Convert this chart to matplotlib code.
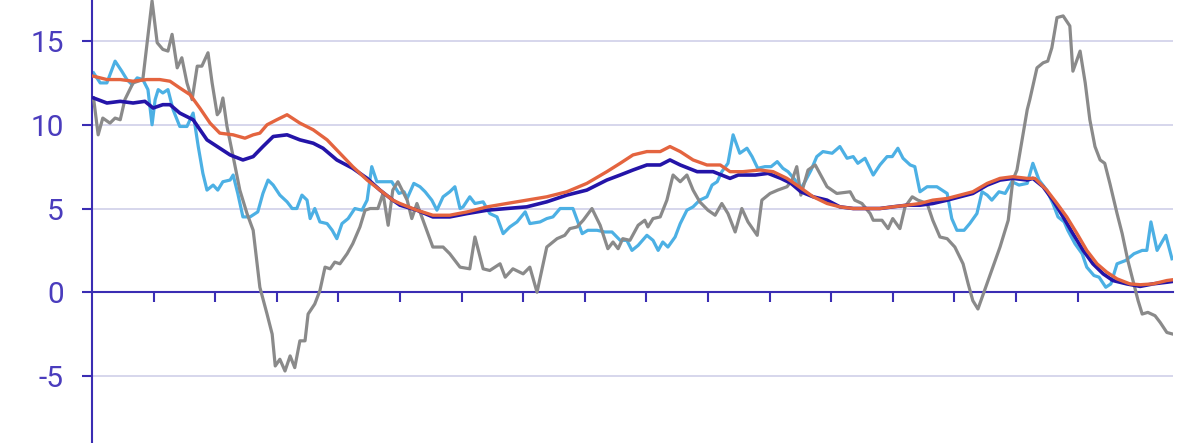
import matplotlib
matplotlib.use("Agg")
import matplotlib.pyplot as plt

plt.rcParams['font.family'] = ['Roboto', 'DejaVu Sans']
plt.rcParams['axes.unicode_minus'] = False

# months since start of series (x) and values (y)
gray_x = [0.3, 1.2, 2.1, 3.5, 4.5, 5.5, 6.4, 8.0, 9.9, 11.7, 12.7, 13.8, 14.8, 15.6, 16.6, 17.5,
          18.5, 19.5, 20.5, 21.4, 22.6, 23.4, 24.4, 24.9, 25.5, 26.3, 27.5, 28.8, 30.2, 31.4, 32.7,
          34.1, 35.1, 35.7, 36.6, 37.6, 38.6, 39.5, 40.5, 41.5, 42.1, 43.4, 44.4, 45.4, 46.4, 47.3,
          48.3, 49.7, 50.8, 52.2, 53.2, 54.2, 55.7, 56.7, 57.7, 58.6, 59.6, 61.4, 62.3, 63.3, 64.5,
          66.4, 68.4, 69.7, 71.7, 73.6, 74.6, 76.2, 77.5, 79.5, 80.5, 82.0, 84.0, 85.3, 86.7, 88.6,
          90.6, 92.1, 93.1, 94.5, 95.7, 97.4, 99.0, 100.5, 101.5, 102.5, 103.4, 104.8, 106.4, 107.7,
          108.3, 109.3, 110.7, 112.0, 113.2, 114.6, 115.9, 117.1, 118.4, 120.0, 121.4, 122.7, 123.9,
          125.3, 126.6, 127.8, 129.6, 130.5, 132.1, 133.6, 135.4, 136.4, 137.3, 138.1, 139.5, 140.9,
          143.2, 145.1, 147.7, 148.6, 150.0, 151.6, 152.2, 153.9, 155.1, 156.0, 157.4, 158.4, 159.8,
          160.9, 162.7, 163.8, 165.2, 166.6, 168.1, 169.7, 170.7, 171.6, 172.6, 174.0, 175.3, 176.9,
          178.5, 179.4, 180.2, 181.2, 182.2, 182.7, 184.1, 185.3, 186.2, 187.0, 188.0, 189.2, 190.5,
          191.1, 192.5, 193.5, 194.4, 195.4, 196.4, 197.3, 198.3, 199.7, 200.7, 201.8, 202.8, 203.8,
          204.6, 205.7, 207.1, 208.1, 209.4, 210.6]
gray_y = [11.6, 9.4, 10.4, 10.1, 10.4, 10.3, 11.5, 12.5, 12.7, 17.4, 14.9, 14.5, 14.4, 15.4, 13.4, 14.0,
          12.5, 11.5, 13.5, 13.5, 14.3, 12.5, 10.6, 10.8, 11.6, 9.9, 8.1, 6.1, 4.7, 3.7, 0.3,
          -1.3, -2.5, -4.4, -4.0, -4.7, -3.8, -4.5, -2.9, -2.9, -1.3, -0.7, 0.1, 1.5, 1.4, 1.8,
          1.7, 2.3, 2.9, 3.9, 4.9, 5.0, 5.0, 5.9, 4.0, 6.1, 6.6, 5.5, 4.4, 5.3, 4.3,
          2.7, 2.7, 2.3, 1.5, 1.4, 3.3, 1.4, 1.3, 1.7, 0.9, 1.4, 1.1, 1.5, 0.0, 2.7,
          3.2, 3.4, 3.8, 3.9, 4.3, 5.0, 4.0, 2.6, 3.0, 2.6, 3.2, 3.1, 4.0, 4.3,
          3.9, 4.4, 4.5, 5.5, 7.0, 6.6, 7.0, 6.1, 5.4, 4.9, 4.6, 5.3, 4.7,
          3.6, 5.0, 4.2, 3.4, 5.5, 5.9, 6.1, 6.3, 6.7, 7.5, 5.8, 7.3, 7.6,
          6.3, 5.9, 6.0, 5.5, 5.3, 4.7, 4.3, 4.3, 3.8, 4.4, 3.8, 5.1, 5.7,
          5.5, 5.3, 4.3, 3.3, 3.2, 2.7, 1.7, 0.5, -0.5, -1.0, 0.2, 1.3, 2.7,
          4.3, 6.7, 7.3, 9.1, 10.9, 11.5, 13.4, 13.7, 13.8, 14.6, 16.4, 16.5, 15.9,
          13.2, 14.4, 12.5, 10.3, 8.7, 7.9, 7.7, 6.5, 4.7, 3.5, 1.9, 0.7, -0.5,
          -1.3, -1.2, -1.4, -1.8, -2.4, -2.5]

lightblue_x = [0.3, 1.6, 2.9, 4.5, 5.8, 6.8, 7.8, 8.8, 9.9, 10.9, 11.7, 12.3, 12.9, 13.8, 14.8, 15.8,
               17.1, 18.5, 19.7, 20.7, 21.6, 22.4, 23.6, 24.5, 25.5, 26.9, 27.5, 28.4, 29.4, 30.8,
               32.3, 33.3, 34.3, 35.3, 36.6, 38.0, 39.0, 39.9, 40.9, 41.9, 42.5, 43.4, 44.4, 45.8,
               46.8, 47.7, 48.7, 49.9, 51.2, 52.6, 53.6, 54.5, 55.5, 57.1, 58.4, 59.8, 60.8, 61.4,
               62.7, 63.9, 64.9, 66.2, 67.2, 68.4, 69.7, 70.7, 71.7, 72.3, 73.6, 74.6, 76.2, 77.5,
               78.9, 80.1, 81.4, 82.8, 84.4, 85.3, 87.3, 88.6, 89.8, 91.2, 92.5, 93.7, 95.5, 96.6,
               98.4, 99.9, 101.3, 102.9, 104.2, 105.2, 106.4, 108.1, 109.3, 110.3, 111.2, 112.2,
               113.6, 114.6, 115.9, 117.1, 118.4, 119.8, 120.8, 121.8, 122.7, 123.9, 124.9, 126.2,
               127.6, 128.6, 129.7, 131.1, 132.3, 133.5, 134.6, 135.6, 137.0, 137.9, 138.9, 140.1,
               141.2, 142.4, 144.2, 145.7, 147.1, 148.3, 149.2, 150.6, 152.2, 153.5, 154.9, 155.9,
               157.0, 158.0, 159.4, 160.3, 161.3, 162.7, 164.6, 165.6, 166.6, 167.5, 168.5, 169.9,
               171.0, 172.4, 173.4, 174.4, 175.3, 176.7, 177.9, 179.2, 180.6, 182.2, 183.3, 184.5,
               186.0, 187.2, 188.2, 189.4, 190.1, 191.5, 192.9, 193.8, 195.2, 196.2, 197.5, 198.5,
               199.7, 201.4, 203.0, 204.6, 205.5, 206.3, 207.5, 209.2, 210.4]
lightblue_y = [13.1, 12.5, 12.5, 13.8, 13.2, 12.7, 12.4, 12.8, 12.7, 12.1, 10.0, 11.5, 12.1, 11.9, 12.1, 10.9,
               9.9, 9.9, 10.7, 8.7, 7.1, 6.1, 6.4, 6.1, 6.6, 6.7, 7.0, 5.9, 4.5, 4.5,
               4.8, 5.9, 6.7, 6.4, 5.8, 5.4, 5.0, 5.0, 5.8, 5.5, 4.4, 5.0, 4.2, 4.1,
               3.7, 3.2, 4.1, 4.4, 5.0, 4.9, 5.5, 7.5, 6.6, 6.6, 6.6, 5.9, 6.0, 5.6,
               6.5, 6.3, 6.0, 5.5, 4.9, 5.7, 6.0, 6.3, 5.0, 5.1, 5.7, 5.3, 5.4, 4.7,
               4.5, 3.5, 3.9, 4.2, 4.8, 4.1, 4.2, 4.4, 4.5, 5.0, 5.0, 5.0, 3.5, 3.7,
               3.7, 3.6, 3.6, 3.1, 3.1, 2.5, 2.8, 3.4, 3.1, 2.5, 3.0, 2.7,
               3.3, 4.1, 4.9, 5.1, 5.5, 5.7, 6.4, 6.6, 7.2, 7.7, 9.4, 8.3,
               8.6, 8.1, 7.4, 7.5, 7.5, 7.8, 7.4, 7.2, 6.7, 6.1, 6.6, 7.3,
               8.1, 8.4, 8.3, 8.7, 8.0, 8.1, 7.7, 8.0, 7.0, 7.6, 8.1, 8.1,
               8.6, 8.0, 7.6, 7.5, 6.0, 6.3, 6.3, 6.1, 5.9, 4.4, 3.7, 3.7,
               4.1, 4.7, 6.0, 5.8, 5.5, 6.0, 5.9, 6.6, 6.4, 6.5, 7.7, 6.7,
               6.1, 5.3, 4.5, 4.2, 3.7, 2.9, 2.3, 1.5, 1.0, 0.9, 0.3, 0.5,
               1.7, 1.9, 2.3, 2.5, 2.5, 4.2, 2.5, 3.4, 2.0]

darkblue_x = [0.3, 2.9, 5.5, 8.0, 10.3, 11.9, 13.8, 15.2, 17.1, 19.7, 22.4, 24.4, 26.9, 29.4, 31.4,
              33.3, 35.3, 38.0, 40.5, 43.1, 45.0, 47.7, 50.8, 53.6, 56.1, 58.6, 60.0, 63.3, 66.4,
              69.7, 73.1, 77.0, 80.8, 84.7, 88.6, 92.5, 96.4, 100.3, 102.9, 105.4, 108.1, 110.7,
              112.6, 114.6, 117.9, 121.0, 124.3, 125.9, 129.2, 131.7, 134.2, 136.2, 138.1, 140.5,
              143.2, 145.7, 148.3, 151.0, 153.5, 156.0, 158.8, 161.3, 163.8, 166.6, 169.1, 171.6,
              174.4, 176.9, 179.4, 182.2, 183.3, 185.3, 187.2, 189.2, 191.1, 193.1, 195.0, 197.0,
              198.9, 201.6, 204.2, 206.7, 209.4, 210.6]
darkblue_y = [11.6, 11.3, 11.4, 11.3, 11.4, 11.0, 11.2, 11.2, 10.7, 10.3, 9.1, 8.7, 8.2, 7.9, 8.1,
              8.7, 9.3, 9.4, 9.1, 8.9, 8.6, 7.9, 7.4, 6.8, 6.1, 5.5, 5.2, 4.9, 4.5,
              4.5, 4.7, 4.9, 5.0, 5.1, 5.4, 5.8, 6.1, 6.7, 7.0, 7.3, 7.6, 7.6,
              7.9, 7.6, 7.2, 7.2, 6.8, 7.0, 7.0, 7.1, 6.8, 6.5, 6.0, 5.7,
              5.5, 5.1, 5.0, 5.0, 5.0, 5.1, 5.2, 5.2, 5.3, 5.5, 5.7, 5.9,
              6.4, 6.7, 6.8, 6.7, 6.8, 6.3, 5.5, 4.5, 3.5, 2.5, 1.7, 1.1,
              0.7, 0.5, 0.35, 0.5, 0.6, 0.65]

orange_x = [0.3, 2.9, 5.5, 8.0, 10.7, 13.2, 15.2, 17.1, 19.1, 21.0, 23.0, 24.9, 27.5, 29.8, 31.4,
            32.7, 34.1, 36.0, 38.0, 40.5, 43.1, 45.8, 48.3, 50.8, 53.6, 56.1, 58.6, 60.0, 63.3,
            66.4, 69.7, 73.1, 77.0, 80.8, 84.7, 88.6, 92.5, 96.4, 100.3, 102.9, 105.4, 108.1,
            110.7, 112.6, 114.6, 117.1, 119.8, 122.4, 124.3, 126.8, 130.1, 132.7, 135.4, 137.3,
            140.5, 143.2, 145.7, 148.3, 151.0, 153.5, 156.0, 158.8, 161.3, 163.8, 166.6, 169.1,
            171.6, 174.4, 176.9, 179.4, 182.2, 183.7, 186.0, 188.0, 189.9, 191.9, 193.8, 195.8,
            197.7, 199.7, 202.2, 204.2, 206.7, 209.4, 210.6]
orange_y = [12.9, 12.7, 12.7, 12.6, 12.7, 12.7, 12.6, 12.2, 11.8, 11.0, 10.1, 9.5, 9.4, 9.2, 9.4,
            9.5, 10.0, 10.3, 10.6, 10.1, 9.7, 9.1, 8.3, 7.5, 6.7, 6.1, 5.5, 5.3, 4.9,
            4.6, 4.6, 4.8, 5.1, 5.3, 5.5, 5.7, 6.0, 6.5, 7.2, 7.7, 8.2, 8.4,
            8.4, 8.7, 8.4, 7.9, 7.6, 7.6, 7.2, 7.2, 7.3, 7.2, 6.8, 6.4,
            5.7, 5.3, 5.1, 5.0, 5.0, 5.0, 5.1, 5.2, 5.3, 5.5, 5.6, 5.8,
            6.0, 6.5, 6.8, 6.9, 6.8, 6.8, 6.1, 5.3, 4.5, 3.5, 2.5, 1.7,
            1.2, 0.8, 0.5, 0.45, 0.5, 0.7, 0.75]

year_ticks = [12, 24, 36, 48, 60, 72, 84, 96, 108, 120, 132, 144, 156, 168, 180, 192]
y_ticks = [-5, 0, 5, 10, 15]
y_labels = ['-5', '0', '5', '10', '15']

AXIS = '#3a2db3'
LABEL = '#4a3cbd'
GRID = '#d3d3ea'

fig = plt.figure(figsize=(12, 4.43), dpi=100)
ax = fig.add_axes([92 / 1200, 0, (1173 - 92) / 1200, 1])
ax.set_xlim(0, 210.6)
ax.set_ylim(-9.0, 17.45)

for yv in [-5, 5, 10, 15]:
    ax.axhline(yv, color=GRID, lw=1.3, zorder=0)

ax.plot(lightblue_x, lightblue_y, color='#4cb0e4', lw=2.3, zorder=2)
ax.plot(gray_x, gray_y, color='#8a8a8a', lw=2.3, zorder=3)
ax.plot(darkblue_x, darkblue_y, color='#2414a8', lw=2.6, zorder=4)
ax.plot(orange_x, orange_y, color='#e4643f', lw=2.4, zorder=5)

for s in ['top', 'right']:
    ax.spines[s].set_visible(False)
ax.spines['left'].set_color(AXIS)
ax.spines['left'].set_linewidth(1.5)
ax.spines['bottom'].set_color(AXIS)
ax.spines['bottom'].set_linewidth(1.5)
ax.spines['bottom'].set_position(('data', 0))
ax.spines['bottom'].set_zorder(1)

ax.set_xticks(year_ticks)
ax.set_xticklabels([])
ax.tick_params(axis='x', direction='out', length=7.2, width=1.5, color=AXIS)
ax.set_yticks(y_ticks)
ax.set_yticklabels(y_labels)
ax.tick_params(axis='y', direction='out', length=7.2, width=1.5, color=AXIS,
               labelsize=21.5, labelcolor=LABEL, pad=13)

fig.savefig('out.png', dpi=100, facecolor='white')
